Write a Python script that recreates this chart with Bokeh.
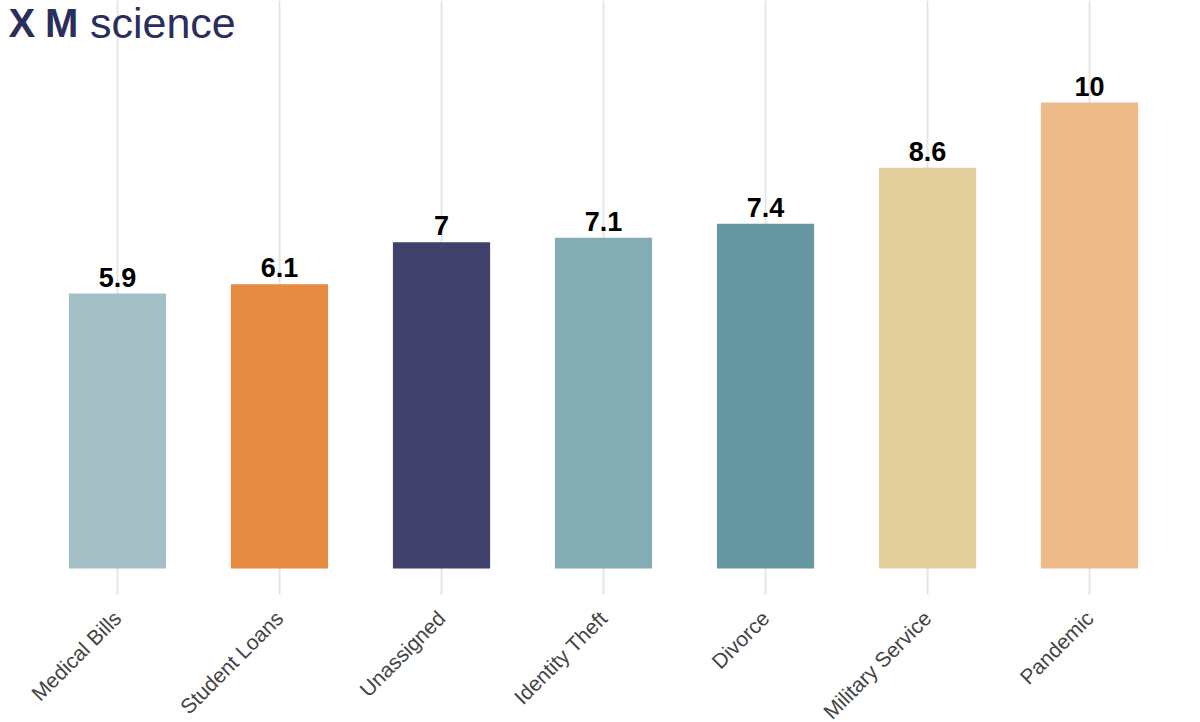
import math
from bokeh.plotting import figure
from bokeh.models import ColumnDataSource, Range1d, Label, FixedTicker, BoxAnnotation
from bokeh.core.properties import value
from bokeh.embed import file_html
from bokeh.resources import INLINE

categories = ["Medical Bills", "Student Loans", "Unassigned", "Identity Theft",
              "Divorce", "Military Service", "Pandemic"]
values = [5.9, 6.1, 7.0, 7.1, 7.4, 8.6, 10.0]
value_labels = ["5.9", "6.1", "7", "7.1", "7.4", "8.6", "10"]
colors = ["#a5bfc6", "#e58c42", "#40416b", "#84acb3", "#6797a1", "#e2cf9c", "#eeba88"]

positions = list(range(len(categories)))
src = ColumnDataSource(dict(x=positions, val=values, lab=value_labels, col=colors))

Y_AXIS = -0.558          # where the axis (and the grid lines) end
Y_BOTTOM, Y_TOP = -3.305, 12.19
p = figure(width=1184, height=722, output_backend="svg", toolbar_location=None,
           x_range=Range1d(-0.722, 6.586), y_range=Range1d(Y_BOTTOM, Y_TOP),
           min_border_left=0, min_border_right=0, min_border_top=0,
           min_border_bottom=0)
p.outline_line_color = None
p.background_fill_color = "white"
p.border_fill_color = "white"

ticker = FixedTicker(ticks=positions)
p.xgrid.ticker = ticker
p.xgrid.grid_line_color = "#e6e6e6"
p.xgrid.grid_line_width = 2
p.ygrid.grid_line_color = None

# white band below the axis so grid lines stop at the axis
p.add_layout(BoxAnnotation(top=Y_AXIS, fill_color="white", fill_alpha=1.0,
                           line_color=None, level="underlay"))

p.vbar(x="x", top="val", bottom=0, width=0.6, source=src,
       fill_color="col", line_color=None, fill_alpha=1.0)

p.text(x="x", y="val", text="lab", source=src, y_offset=-7,
       text_align="center", text_baseline="bottom",
       text_font=value("Liberation Sans"), text_font_style="bold",
       text_font_size="27px", text_color="#000000")

p.yaxis.visible = False

ax = p.xaxis[0]
ax.ticker = ticker
ax.fixed_location = Y_AXIS
ax.major_label_overrides = {i: c for i, c in zip(positions, categories)}
ax.axis_line_color = None
ax.major_tick_line_color = None
ax.minor_tick_line_color = None
ax.major_label_orientation = math.pi / 4
ax.major_label_text_font = "Liberation Sans"
ax.major_label_text_font_size = "21px"
ax.major_label_text_color = "#444444"
ax.major_label_standoff = 14

# logo
navy = "#2b2d5c"
p.add_layout(Label(x=-0.673, y=11.71, text="X",
                   text_font="Liberation Sans", text_font_size="40px",
                   text_font_style="bold", text_color=navy, text_baseline="alphabetic"))
p.add_layout(Label(x=-0.447, y=11.71, text="M",
                   text_font="Liberation Sans", text_font_size="40px",
                   text_font_style="bold", text_color=navy, text_baseline="alphabetic"))
p.add_layout(Label(x=-0.170, y=11.71, text="science",
                   text_font="Liberation Sans", text_font_size="43px",
                   text_color=navy, text_baseline="alphabetic"))

open("out.html", "w").write(file_html(p, INLINE))
